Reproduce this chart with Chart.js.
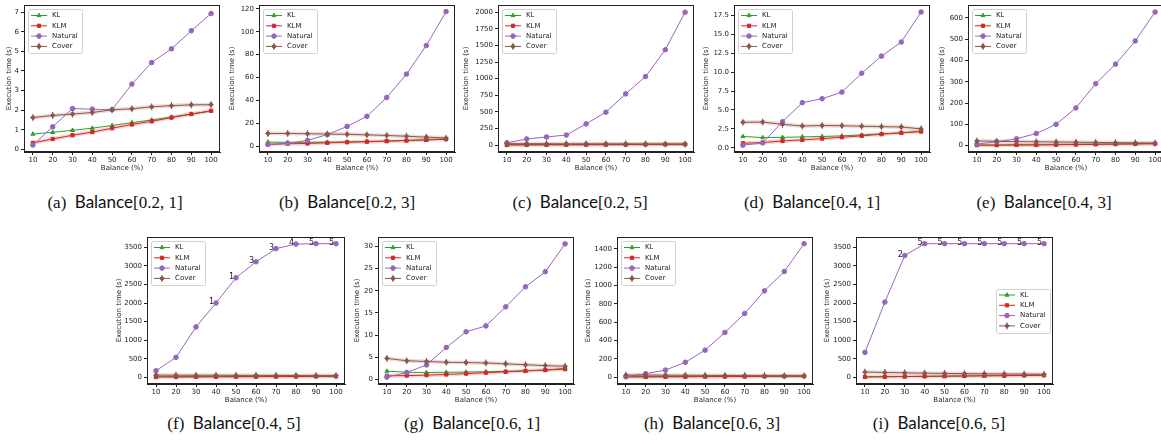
<!DOCTYPE html>
<html>
<head>
<meta charset="utf-8">
<script src="https://cdn.jsdelivr.net/npm/chart.js@4.4.1/dist/chart.umd.min.js"></script>
<style>
  body { margin: 0; width: 1161px; height: 444px; overflow: hidden; background: #fff; position: relative; }
  canvas { position: absolute; }
  .cap { position: absolute; transform: translate(-50%, -50%); white-space: nowrap;
         font-family: "Liberation Serif", serif; font-size: 17px; color: #111; }
  .cap .b { font-family: "Lato", sans-serif; }
</style>
</head>
<body>
<script>
const balance = [10, 20, 30, 40, 50, 60, 70, 80, 90, 100];

// (a) Balance[0.2, 1]
const klA  = [0.78, 0.87, 0.97, 1.08, 1.22, 1.36, 1.5, 1.65, 1.8, 1.95];
const klmA = [0.33, 0.53, 0.72, 0.88, 1.08, 1.27, 1.43, 1.62, 1.8, 1.97];
const natA = [0.22, 1.15, 2.08, 2.05, 2.02, 3.33, 4.43, 5.13, 6.05, 6.93];
const covA = [1.62, 1.73, 1.8, 1.88, 2.02, 2.07, 2.17, 2.23, 2.27, 2.28];
const ticksA = [0, 1, 2, 3, 4, 5, 6, 7];

// (b) Balance[0.2, 3]
const klB  = [3.5, 3.2, 3.3, 3.4, 3.6, 4, 4.4, 4.9, 5.5, 6.2];
const klmB = [1.5, 2, 2.3, 2.8, 3.3, 3.8, 4.3, 4.8, 5.4, 6];
const natB = [1.4, 2.5, 5, 10, 17.2, 26, 42.5, 63, 88, 117.7];
const covB = [11, 11, 10.8, 10.5, 10.3, 9.8, 9.3, 8.6, 7.8, 7];
const ticksB = [0, 20, 40, 60, 80, 100, 120];

// (c) Balance[0.2, 5]
const klC  = [8, 8, 9, 9, 10, 10, 11, 12, 13, 14];
const klmC = [3, 4, 5, 6, 7, 8, 9, 10, 12, 13];
const natC = [35, 93, 123, 152, 320, 496, 771, 1032, 1435, 2000];
const covC = [22, 22, 21, 20, 20, 19, 19, 18, 17, 16];
const ticksC = [0, 250, 500, 750, 1000, 1250, 1500, 1750, 2000];

// (d) Balance[0.4, 1]
const klD  = [1.5, 1.35, 1.38, 1.45, 1.5, 1.58, 1.7, 1.85, 1.98, 2.2];
const klmD = [0.6, 0.7, 0.9, 1.05, 1.22, 1.4, 1.58, 1.8, 1.98, 2.15];
const natD = [0.35, 0.65, 3.45, 5.96, 6.48, 7.35, 9.85, 12.1, 13.96, 17.93];
const covD = [3.37, 3.4, 3.1, 2.88, 2.95, 2.92, 2.85, 2.8, 2.75, 2.5];
const ticksD = [0, 2.5, 5, 7.5, 10, 12.5, 15, 17.5];

// (e) Balance[0.4, 3]
const klE  = [3, 3, 4, 4, 5, 6, 7, 8, 9, 10];
const klmE = [2, 2, 3, 3, 4, 5, 6, 7, 8, 9];
const natE = [7, 18, 32, 57, 100, 177, 291, 383, 492, 628];
const covE = [22, 20, 19, 18, 17, 16, 15, 14, 13, 12];
const ticksE = [0, 100, 200, 300, 400, 500, 600];

// (f) Balance[0.4, 5]
const klF  = [15, 16, 17, 18, 20, 22, 24, 26, 28, 30];
const klmF = [8, 10, 12, 14, 16, 18, 20, 22, 25, 28];
const natF = [176, 538, 1358, 2002, 2681, 3113, 3466, 3589, 3600, 3600];
const covF = [60, 58, 56, 55, 53, 52, 50, 48, 46, 45];
const annF = ['', '', '', '1', '1', '3', '3', '4', '5', '5'];
const ticksF = [0, 500, 1000, 1500, 2000, 2500, 3000, 3500];

// (g) Balance[0.6, 1]
const klG  = [1.85, 1.6, 1.55, 1.6, 1.65, 1.72, 1.8, 1.95, 2.1, 2.5];
const klmG = [0.8, 0.85, 0.95, 1.1, 1.3, 1.5, 1.7, 1.9, 2.1, 2.3];
const natG = [0.5, 1.55, 3.26, 7.2, 10.74, 12.07, 16.37, 20.9, 24.3, 30.6];
const covG = [4.74, 4.2, 4.05, 3.85, 3.8, 3.7, 3.5, 3.3, 3.1, 2.95];
const ticksG = [0, 5, 10, 15, 20, 25, 30];

// (h) Balance[0.6, 3]
const klH  = [8, 8, 9, 9, 10, 11, 12, 13, 14, 15];
const klmH = [3, 4, 5, 6, 7, 8, 9, 10, 11, 12];
const natH = [7, 39, 79, 164, 296, 489, 696, 943, 1154, 1457];
const covH = [25, 24, 23, 22, 21, 20, 19, 18, 17, 16];
const ticksH = [0, 200, 400, 600, 800, 1000, 1200, 1400];

// (i) Balance[0.6, 5]
const klI  = [12, 17, 22, 27, 32, 37, 42, 47, 52, 57];
const klmI = [10, 15, 20, 25, 30, 35, 40, 45, 50, 55];
const natI = [672, 2025, 3280, 3600, 3600, 3600, 3600, 3600, 3600, 3600];
const covI = [141, 130, 120, 112, 105, 100, 95, 90, 85, 80];
const annI = ['', '', '2', '5', '5', '5', '5', '5', '5', '5'];
const ticksI = [0, 500, 1000, 1500, 2000, 2500, 3000, 3500];

const captions = ['(a)|[0.2, 1]', '(b)|[0.2, 3]', '(c)|[0.2, 5]', '(d)|[0.4, 1]', '(e)|[0.4, 3]',
                  '(f)|[0.4, 5]', '(g)|[0.6, 1]', '(h)|[0.6, 3]', '(i)|[0.6, 5]'];

const GREEN = '#2ca02c', RED = '#d62728', PURPLE = '#9467bd', BROWN = '#8c564b';
const FONT = { family: 'DejaVu Sans', size: 7 };
const INK = '#222';

// layout of each panel (canvas position + y axis width) and axis ranges
const panels = [
  { kl: klA, klm: klmA, nat: natA, cov: covA, ticks: ticksA, min: -0.135, max: 7.365, left: 5,   top: 0,   w: 220, yW: 19, cx: 115 },
  { kl: klB, klm: klmB, nat: natB, cov: covB, ticks: ticksB, min: -5.2,  max: 123.5, left: 228, top: 0,   w: 232, yW: 31, cx: 347 },
  { kl: klC, klm: klmC, nat: natC, cov: covC, ticks: ticksC, min: -103,  max: 2108,  left: 462, top: 0,   w: 237, yW: 36, cx: 580 },
  { kl: klD, klm: klmD, nat: natD, cov: covD, ticks: ticksD, min: -0.55, max: 18.85, left: 702, top: 0,   w: 233, yW: 32, cx: 812, dec: 1 },
  { kl: klE, klm: klmE, nat: natE, cov: covE, ticks: ticksE, min: -30,   max: 661,   left: 938, top: 0,   w: 231, yW: 30, cx: 1044 },
  { kl: klF, klm: klmF, nat: natF, cov: covF, ticks: ticksF, min: -180,  max: 3780,  left: 115, top: 232, w: 235, yW: 32, cx: 234, ann: annF },
  { kl: klG, klm: klmG, nat: natG, cov: covG, ticks: ticksG, min: -1.05, max: 32.15, left: 353, top: 232, w: 226, yW: 25, cx: 472 },
  { kl: klH, klm: klmH, nat: natH, cov: covH, ticks: ticksH, min: -73,   max: 1530,  left: 584, top: 232, w: 234, yW: 33, cx: 712 },
  { kl: klI, klm: klmI, nat: natI, cov: covI, ticks: ticksI, min: -180,  max: 3780,  left: 823, top: 232, w: 235, yW: 33, cx: 939, ann: annI, legendRight: true }
];

// full box round the plot, like matplotlib spines
const boxPlugin = {
  id: 'box',
  afterDatasetsDraw(chart) {
    const { ctx, chartArea: a } = chart;
    ctx.save();
    ctx.strokeStyle = INK;
    ctx.lineWidth = 1;
    ctx.strokeRect(Math.round(a.left) + 0.5, Math.round(a.top) + 0.5, Math.round(a.right - a.left) - 1, Math.round(a.bottom - a.top) - 1);
    ctx.restore();
  }
};

// small vertical error bars on the Cover series
const errPlugin = {
  id: 'err',
  afterDatasetsDraw(chart) {
    const ctx = chart.ctx;
    chart.data.datasets.forEach((d, i) => {
      if (d.label !== 'Cover') return;
      ctx.save();
      ctx.strokeStyle = BROWN;
      ctx.lineWidth = 1;
      chart.getDatasetMeta(i).data.forEach(p => {
        ctx.beginPath();
        ctx.moveTo(p.x, p.y - 3.5);
        ctx.lineTo(p.x, p.y + 3.5);
        ctx.stroke();
      });
      ctx.restore();
    });
  }
};

// number labels next to the Natural points (one plugin per panel)
function annPlugin(labels) {
  return {
    id: 'ann',
    afterDatasetsDraw(chart) {
      if (!labels) return;
      const ctx = chart.ctx;
      const xs = chart.scales.x, ys = chart.scales.y;
      const nat = chart.data.datasets.find(d => d.label === 'Natural');
      ctx.save();
      ctx.fillStyle = INK;
      ctx.font = '8px "DejaVu Sans"';
      ctx.textAlign = 'right';
      ctx.textBaseline = 'middle';
      labels.forEach((t, i) => {
        if (!t) return;
        ctx.fillText(t, xs.getPixelForValue(balance[i]) - 2, ys.getPixelForValue(nat.data[i].y) - 1);
      });
      ctx.restore();
    }
  };
}

// matplotlib style legend: line + marker handles in a framed box
const legendPlugin = {
  id: 'mplLegend',
  afterDraw(chart, args, opts) {
    const ctx = chart.ctx, a = chart.chartArea;
    const items = chart.data.datasets.filter(d => d.label);
    const w = 54, h = 44, row = 10.3;
    const x = opts.right ? a.right - w - 3 : a.left + 4;
    const y = opts.right ? (a.top + a.bottom) / 2 - h / 2 : a.top + 4;
    ctx.save();
    ctx.fillStyle = 'rgba(255,255,255,0.85)';
    ctx.strokeStyle = '#d0d0d0';
    ctx.lineWidth = 1;
    ctx.beginPath();
    ctx.roundRect(Math.round(x) + 0.5, Math.round(y) + 0.5, w, h, 2);
    ctx.fill();
    ctx.stroke();
    items.forEach((d, i) => {
      const cy = y + 6.5 + i * row;
      ctx.strokeStyle = d.borderColor;
      ctx.fillStyle = d.borderColor;
      ctx.lineWidth = 1;
      ctx.beginPath();
      ctx.moveTo(x + 3, cy);
      ctx.lineTo(x + 19, cy);
      ctx.stroke();
      if (d.label === 'Cover') {
        ctx.beginPath();
        ctx.moveTo(x + 11, cy - 3.5);
        ctx.lineTo(x + 11, cy + 3.5);
        ctx.stroke();
      }
      Chart.helpers.drawPoint(ctx, { pointStyle: d.pointStyle, radius: d.pointRadius, rotation: 0, borderWidth: 1 }, x + 11, cy);
      ctx.fillStyle = INK;
      ctx.font = '7px "DejaVu Sans"';
      ctx.textAlign = 'left';
      ctx.textBaseline = 'middle';
      ctx.fillText(d.label, x + 24, cy);
    });
    ctx.restore();
  }
};

function series(label, data, color, style, order) {
  return { label, data: balance.map((b, i) => ({ x: b, y: data[i] })), borderColor: color, backgroundColor: color,
           borderWidth: 1, pointStyle: style, pointRadius: 2.3, pointBorderWidth: 1, order };
}

function band(data, color, order) {
  return { label: '', data: balance.map((b, i) => ({ x: b, y: data[i] })), borderColor: color,
           borderWidth: 4, pointRadius: 0, order };
}

panels.forEach((p, k) => {
  const c = document.createElement('canvas');
  c.width = p.w; c.height = 172;
  c.style.left = p.left + 'px'; c.style.top = p.top + 'px';
  document.body.appendChild(c);

  const cap = document.createElement('div');
  const [tag, rng] = captions[k].split('|');
  cap.className = 'cap';
  cap.innerHTML = tag + '&nbsp; <span class="b">Balance</span>' + rng;
  cap.style.left = p.cx + 'px';
  cap.style.top = (p.top === 0 ? 202 : 423) + 'px';
  document.body.appendChild(cap);

  new Chart(c, {
    type: 'line',
    data: {
      datasets: [
        band(p.klm, 'rgba(214,39,40,0.2)', 6),
        band(p.cov, 'rgba(140,86,75,0.2)', 5),
        series('KL', p.kl, GREEN, 'triangle', 4),
        series('KLM', p.klm, RED, 'rect', 3),
        series('Natural', p.nat, PURPLE, 'circle', 2),
        series('Cover', p.cov, BROWN, 'rectRot', 1)
      ]
    },
    options: {
      responsive: false,
      animation: false,
      devicePixelRatio: 1,
      layout: { padding: { top: 2, right: 2, left: 0, bottom: 0 } },
      plugins: {
        legend: { display: false },
        tooltip: { enabled: false },
        mplLegend: { right: !!p.legendRight }
      },
      scales: {
        x: {
          type: 'linear', min: 5.5, max: 104.5,
          afterBuildTicks: s => { s.ticks = balance.map(v => ({ value: v })); },
          afterFit: s => { s.height = 20; s.paddingLeft = 0; s.paddingRight = 0; },
          ticks: { font: FONT, color: INK, padding: 1, maxRotation: 0, autoSkip: false },
          grid: { drawOnChartArea: false, tickLength: 3, color: INK },
          border: { color: INK },
          title: { display: true, text: 'Balance (%)', font: FONT, color: INK, padding: 0 }
        },
        y: {
          min: p.min, max: p.max,
          afterBuildTicks: s => { s.ticks = p.ticks.map(v => ({ value: v })); },
          afterFit: s => { s.width = p.yW; s.paddingTop = 0; s.paddingBottom = 0; },
          ticks: { font: FONT, color: INK, padding: 2, callback: v => p.dec ? v.toFixed(p.dec) : String(v) },
          grid: { drawOnChartArea: false, tickLength: 3, color: INK },
          border: { color: INK },
          title: { display: true, text: 'Execution time (s)', font: FONT, color: INK, padding: 0 }
        }
      }
    },
    plugins: [boxPlugin, errPlugin, annPlugin(p.ann), legendPlugin]
  });
});
</script>
</body>
</html>
